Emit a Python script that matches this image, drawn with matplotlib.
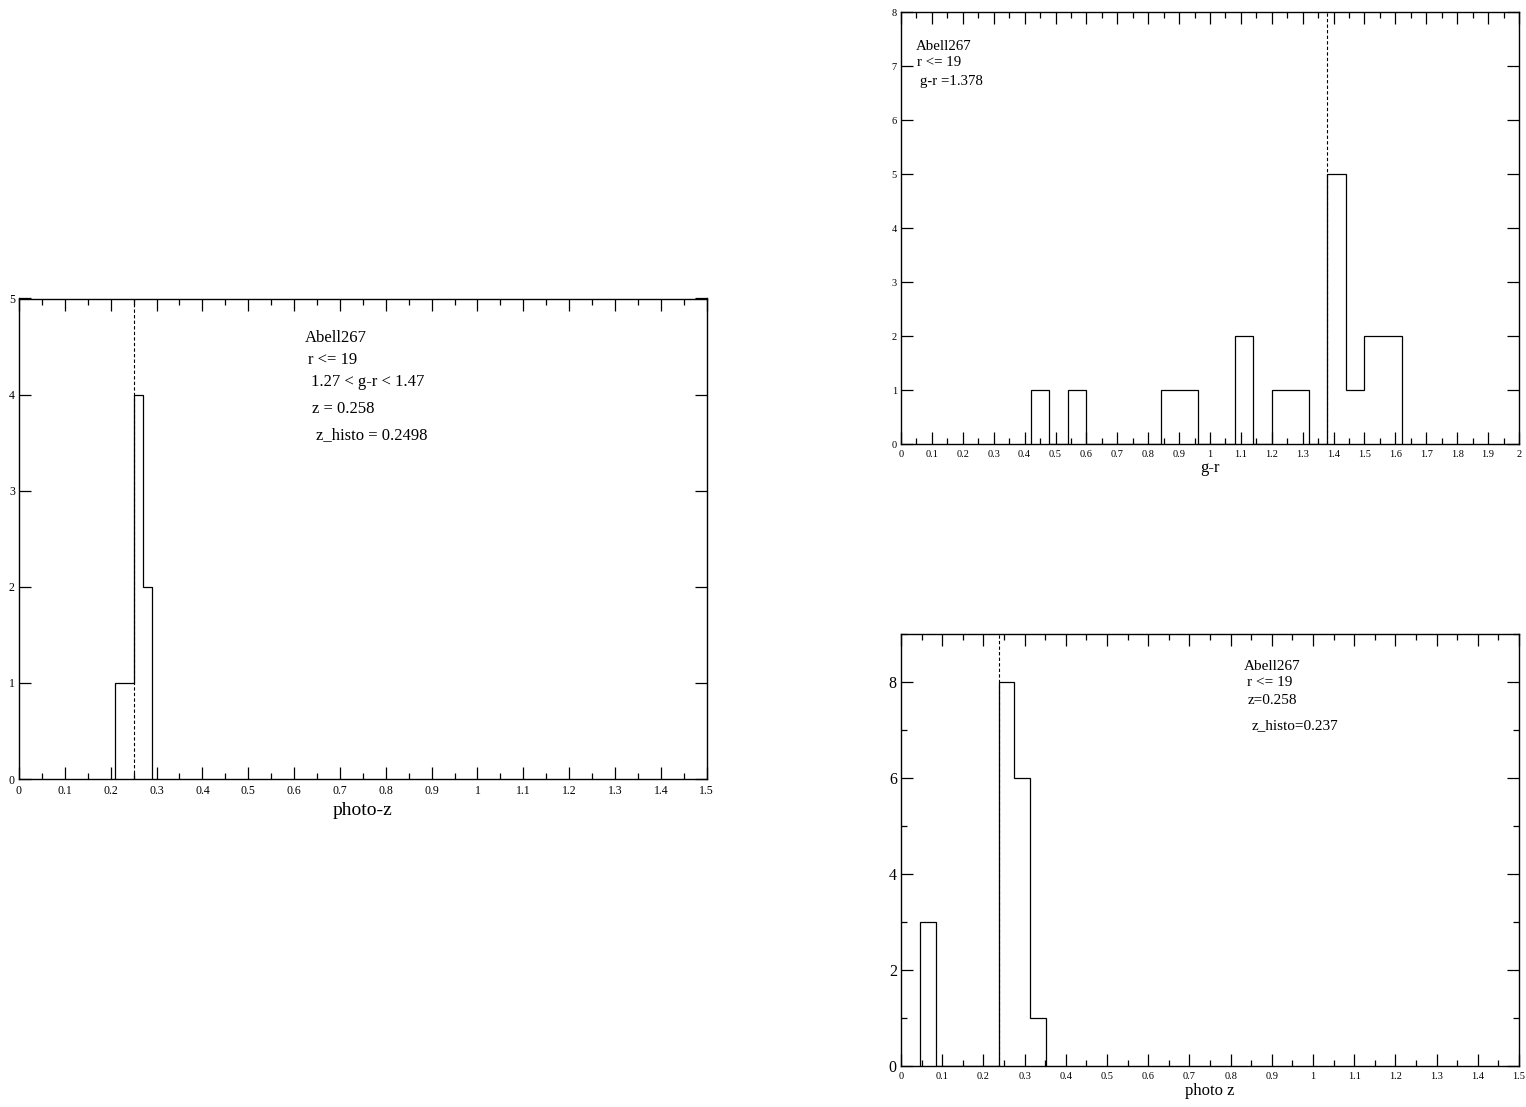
import numpy as np
import matplotlib
matplotlib.use("Agg")
import matplotlib.pyplot as plt
from matplotlib.ticker import MultipleLocator

plt.rcParams['font.family'] = ['Liberation Serif', 'DejaVu Serif']

# left panel: photo-z histogram (colour-selected)
pz_edges = [0.21, 0.23, 0.25, 0.27, 0.29]
pz_counts = [1, 1, 4, 2]
pz_histo = 0.2498

# top right: g-r histogram
gr_edges = [0.42, 0.48, 0.54, 0.60, 0.66, 0.72, 0.78, 0.84, 0.90, 0.96, 1.02,
            1.08, 1.14, 1.20, 1.26, 1.32, 1.38, 1.44, 1.50, 1.56, 1.62]
gr_counts = [1, 0, 1, 0, 0, 0, 0, 1, 1, 0, 0, 2, 0, 1, 1, 0, 5, 1, 2, 2]
gr_peak = 1.378

# bottom right: photo z histogram
z_edges = [0.047, 0.085, 0.123, 0.161, 0.199, 0.237, 0.275, 0.313, 0.351]
z_counts = [3, 0, 0, 0, 0, 8, 6, 1]
z_histo = 0.237

W, H = 1526, 1107
fig = plt.figure(figsize=(W / 100, H / 100), dpi=100)


def box(x0, y0, x1, y1):
    # pixel box -> figure fraction
    return [x0 / W, 1 - y1 / H, (x1 - x0) / W, (y1 - y0) / H]


def style(ax, xmaj, xmin, ymaj, ymin, xlab_size, ylab_size):
    ax.xaxis.set_major_locator(MultipleLocator(xmaj))
    ax.xaxis.set_minor_locator(MultipleLocator(xmin))
    ax.yaxis.set_major_locator(MultipleLocator(ymaj))
    if ymin:
        ax.yaxis.set_minor_locator(MultipleLocator(ymin))
    else:
        ax.yaxis.set_minor_locator(plt.NullLocator())
    ax.tick_params(which='both', direction='in', top=True, right=True, width=0.9)
    ax.tick_params(which='major', length=8.5)
    ax.tick_params(which='minor', length=4.3)
    ax.tick_params(axis='x', labelsize=xlab_size, pad=4)
    ax.tick_params(axis='y', labelsize=ylab_size, pad=3)
    for s in ax.spines.values():
        s.set_linewidth(1.0)
    ax.xaxis.set_major_formatter(plt.FuncFormatter(lambda v, p: ('%g' % round(v, 3))))


def txt(x, y, s, size=12):
    fig.text(x / W, 1 - y / H, s, fontsize=size, va='center', ha='left')


# ---- left panel
ax1 = fig.add_axes(box(19, 298.5, 706.7, 779))
ax1.stairs(pz_counts, pz_edges, color='k', lw=0.9)
ax1.axvline(pz_histo, color='k', lw=0.8, ls=(0, (3, 2)))
ax1.set_xlim(0, 1.5)
ax1.set_ylim(0, 5)
style(ax1, 0.1, 0.05, 1, None, 8.5, 8.5)
ax1.set_xlabel('photo-z', fontsize=14, labelpad=4)
txt(305, 338, 'Abell267')
txt(308, 360, 'r <= 19')
txt(311, 382, '1.27 < g-r < 1.47')
txt(312, 409, 'z = 0.258')
txt(316, 435, 'z_histo = 0.2498')

# ---- top right panel
ax2 = fig.add_axes(box(901, 12, 1519, 444))
ax2.stairs(gr_counts, gr_edges, color='k', lw=0.9)
ax2.axvline(gr_peak, color='k', lw=0.8, ls=(0, (3, 2)))
ax2.set_xlim(0, 2)
ax2.set_ylim(0, 8)
style(ax2, 0.1, 0.05, 1, None, 7.5, 7.5)
ax2.set_xlabel('g-r', fontsize=12, labelpad=1)
txt(916, 46, 'Abell267', size=10.7)
txt(917, 63, 'r <= 19', size=10.7)
txt(920, 81, 'g-r =1.378', size=10.7)

# ---- bottom right panel
ax3 = fig.add_axes(box(901, 634, 1519, 1066))
ax3.stairs(z_counts, z_edges, color='k', lw=0.9)
ax3.axvline(z_histo, color='k', lw=0.8, ls=(0, (3, 2)))
ax3.set_xlim(0, 1.5)
ax3.set_ylim(0, 9)
style(ax3, 0.1, 0.05, 2, 1, 7.5, 11.5)
ax3.set_xlabel('photo z', fontsize=12, labelpad=2)
txt(1244, 667, 'Abell267', size=11)
txt(1247, 683, 'r <= 19', size=11)
txt(1248, 700, 'z=0.258', size=11)
txt(1252, 726, 'z_histo=0.237', size=11)

plt.savefig('out.png', dpi=100)
